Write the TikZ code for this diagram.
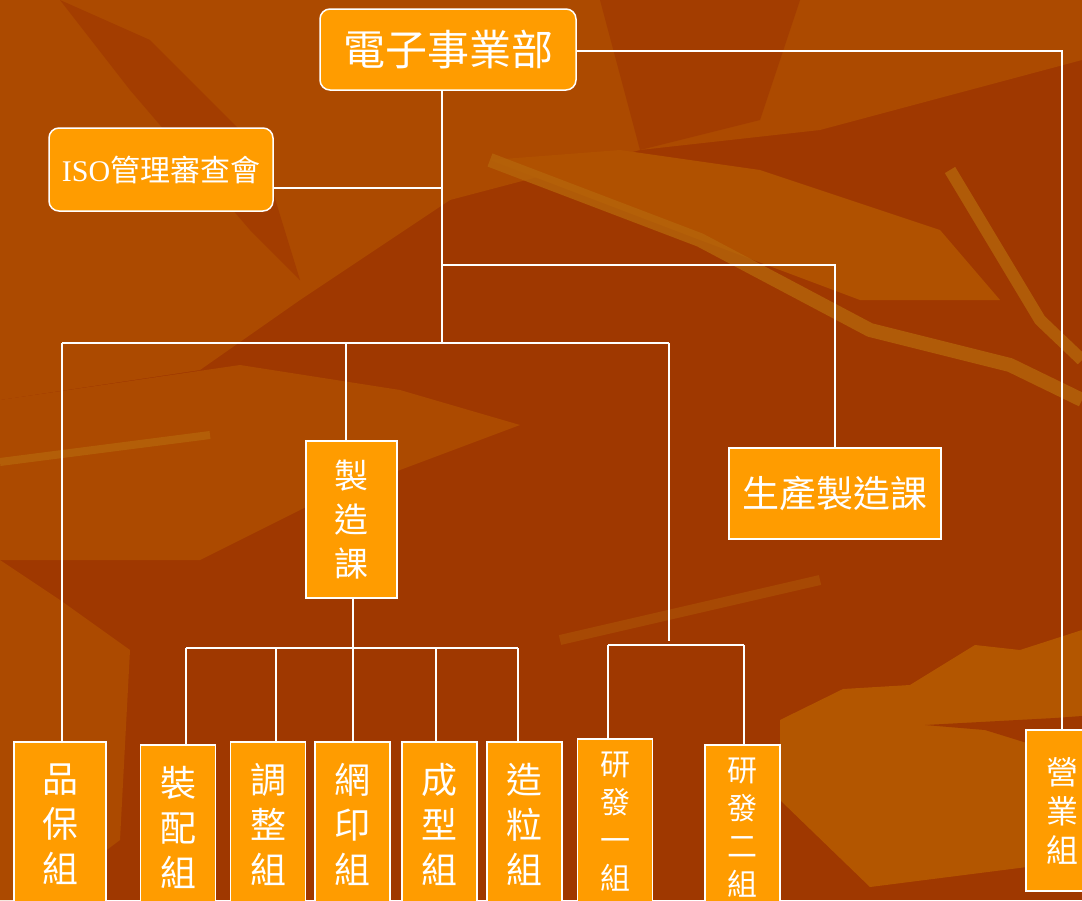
\documentclass[tikz,border=0pt]{standalone}
\usepackage{fontspec}
\setmainfont{Liberation Serif}
\newfontfamily\cjk{Noto Sans CJK TC}
\usetikzlibrary{calc}
\definecolor{bgdark}{HTML}{9F3800}
\definecolor{bgmid}{HTML}{AC4A00}
\definecolor{bglight}{HTML}{B35600}
\definecolor{bgstripe}{HTML}{B5640A}
\definecolor{boxfill}{HTML}{FF9C00}
\begin{document}
\begin{tikzpicture}[x=1pt,y=-1pt,
  box/.style={draw=white, line width=1.5pt, fill=boxfill, text=white, inner sep=0pt, align=center},
  rbox/.style={box, rounded corners=10pt},
  vbox/.style={box, minimum width=75pt, minimum height=164pt, font={\cjk\fontsize{36}{45}\selectfont}},
  vsmall/.style={box, minimum width=75pt, minimum height=166pt, font={\cjk\fontsize{30}{38}\selectfont}},
  conn/.style={draw=white, line width=1.6pt}]
\useasboundingbox (0,0) rectangle (1082,900);
\clip (0,0) rectangle (1082,900);
% background
\fill[bgdark] (0,0) rectangle (1082,900);
\fill[bgmid] (0,0) -- (1082,0) -- (1082,60) -- (820,130) -- (640,150) -- (450,200) -- (300,300) -- (200,370) -- (0,400) -- cycle;
\fill[bgdark!70!bgmid] (60,0) -- (150,40) -- (260,150) -- (300,280) -- (250,230) -- (130,90) -- cycle;
\fill[bgdark!70!bgmid] (600,0) -- (800,0) -- (760,120) -- (640,150) -- cycle;
\fill[bglight!60!bgmid] (490,160) -- (620,150) -- (760,170) -- (940,230) -- (1000,300) -- (860,300) -- (700,240) -- cycle;
\fill[bgmid] (0,400) -- (240,365) -- (400,390) -- (520,425) -- (320,500) -- (200,560) -- (0,560) -- cycle;
\fill[bgmid] (0,560) -- (60,600) -- (130,650) -- (120,840) -- (40,900) -- (0,900) -- cycle;
\fill[bglight] (780,720) -- (843,689) -- (910,685) -- (975,645) -- (1020,650) -- (1082,630) -- (1082,860) -- (870,887) -- (780,800) -- cycle;
\fill[bgdark] (925,725) -- (1055,718) -- (1082,716) -- (1082,760) -- (985,730) -- cycle;
\draw[bgstripe, opacity=0.8, line width=14pt, line join=round] (490,160) -- (700,240) -- (870,330) -- (1010,365) -- (1082,400);
\draw[bgstripe, opacity=0.8, line width=12pt, line join=round] (950,170) -- (1040,320) -- (1082,360);
\draw[bgstripe, opacity=0.8, line width=8pt] (0,462) -- (210,435);
\draw[bgstripe, opacity=0.4, line width=10pt] (560,640) -- (820,580);
% nodes
\node[rbox, minimum width=256pt, minimum height=81pt, font={\cjk\fontsize{42}{50}\selectfont}] (top) at (448,49.5) {電子事業部};
\node[rbox, minimum width=224pt, minimum height=83pt, font={\fontsize{30}{36}\selectfont}] (iso) at (161,169.5) {ISO{\cjk 管理審查會}};
\node[box, minimum width=212pt, minimum height=91pt, font={\cjk\fontsize{37}{44}\selectfont}] (prod) at (835,493.5) {生產製造課};
\node[box, minimum width=91pt, minimum height=157pt, font={\cjk\fontsize{34}{44}\selectfont}] (mfg) at (351.5,519.5) {製\\造\\課};
\node[vbox, minimum width=92pt] (qa) at (60,824) {品\\保\\組};
\node[vbox] (g1) at (178,827) {裝\\配\\組};
\node[vbox] (g2) at (268,824) {調\\整\\組};
\node[vbox] (g3) at (352.5,824) {網\\印\\組};
\node[vbox] (g4) at (439.5,824) {成\\型\\組};
\node[vbox] (g5) at (524.5,824) {造\\粒\\組};
\node[vsmall] (rd1) at (615,822) {研\\發\\一\\組};
\node[vsmall] (rd2) at (742.5,828) {研\\發\\二\\組};
\node[box, minimum width=72pt, minimum height=161pt, font={\cjk\fontsize{32}{39}\selectfont}] (sales) at (1062,810.5) {營\\業\\組};
% junction coordinates
\coordinate (t1) at (442,343);
\coordinate (isoj) at (442,188);
\coordinate (b1) at (442,265);
\coordinate (hL) at (62,343);
\coordinate (hR) at (669,343);
\coordinate (m1) at (346,343);
\coordinate (rdj) at (669,641);
\coordinate (rL) at (608,645);
\coordinate (rR) at (744,645);
\coordinate (mj) at (353,648);
\coordinate (mL) at (186,648);
\coordinate (mR) at (518,648);
\coordinate (s1) at (1062,51);
% connectors
\draw[conn] (top.south -| t1) -- (t1);
\draw[conn] (iso.east |- isoj) -- (isoj);
\draw[conn] (b1) -| (prod.north);
\draw[conn] (hL) -- (hR);
\draw[conn] (hL) -- (hL |- qa.north);
\draw[conn] (m1) -- (m1 |- mfg.north);
\draw[conn] (hR) -- (rdj);
\draw[conn] (rL) -- (rR);
\draw[conn] (rL) -- (rL |- rd1.north);
\draw[conn] (rR) -- (rR |- rd2.north);
\draw[conn] (mfg.south -| mj) -- (mj);
\draw[conn] (mL) -- (mR);
\draw[conn] (mL) -- (mL |- g1.north);
\draw[conn] (276,648) -- (276,648 |- g2.north);
\draw[conn] (mj) -- (mj |- g3.north);
\draw[conn] (436,648) -- (436,648 |- g4.north);
\draw[conn] (mR) -- (mR |- g5.north);
\draw[conn] (top.east |- s1) -- (s1) -- (s1 |- sales.north);
\end{tikzpicture}
\end{document}
